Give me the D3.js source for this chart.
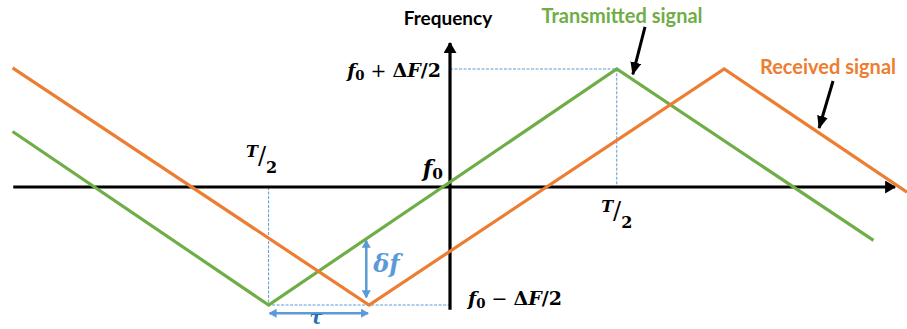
<!DOCTYPE html>
<html>
<head>
<meta charset="utf-8">
<script src="https://cdn.jsdelivr.net/npm/d3@7"></script>
<style>
  html, body { margin: 0; padding: 0; background: #fff; }
  svg { display: block; }
  .label { font-family: Lato, "Open Sans", sans-serif; font-weight: bold; }
  .math { font-family: "DejaVu Serif", serif; font-weight: bold; font-style: italic; }
  .up { font-style: normal; }
</style>
</head>
<body>
<svg id="chart" width="907" height="329"></svg>
<script>
// time in units of the sweep period T (0 at the frequency axis),
// frequency in units of ΔF/2 around f0
const transmitted = [[-0.627, 0.47], [-0.26, -1], [0.239, 1], [0.607, -0.453]];
const received = [[-0.627, 1.01], [-0.116, -1], [0.393, 1], [0.655, -0.044]];

const timeAxis = [-0.626, 0.638];
const freqAxis = [-1.04, 1.22];

// pointer arrows: [tail, tip]
const txPointer = [[0.2795, 1.356], [0.262, 0.955]];
const rxPointer = [[0.549, 0.898], [0.529, 0.5]];

const colors = { tx: "#70ad47", rx: "#ed7d31", guide: "#5b9bd5", tau: "#2470b4" };

const width = 907, height = 329;
const x = d3.scaleLinear().domain([-0.645, 0.655]).range([0, width]);
const y = d3.scaleLinear().domain([-1, 1]).range([305, 69]);
const line = d3.line().x((d) => x(d[0])).y((d) => y(d[1]));

const svg = d3.select("#chart");
const defs = svg.append("defs");

function marker(id, len, half, color) {
  defs.append("marker")
    .attr("id", id)
    .attr("markerUnits", "userSpaceOnUse")
    .attr("viewBox", `0 ${-half} ${len} ${half * 2}`)
    .attr("markerWidth", len)
    .attr("markerHeight", half * 2)
    .attr("refX", len - 1)
    .attr("refY", 0)
    .attr("orient", "auto-start-reverse")
    .append("path")
    .attr("d", `M0,${-half}L${len},0L0,${half}Z`)
    .attr("fill", color);
}
marker("axis-head", 11, 6.5, "#000");
marker("pointer-head", 13, 5.5, "#000");
marker("blue-head", 8, 4.5, colors.guide);

const gMin = transmitted[1], gPeak = transmitted[2], rMin = received[1];

// dashed guides
svg.append("path")
  .attr("d", line([[0, gPeak[1]], gPeak, [gPeak[0], 0]]))
  .attr("fill", "none").attr("stroke", colors.guide)
  .attr("stroke-width", 1).attr("stroke-dasharray", "3,1.5");
svg.append("path")
  .attr("d", line([[gMin[0], 0], gMin, [0, gMin[1]]]))
  .attr("fill", "none").attr("stroke", colors.guide)
  .attr("stroke-width", 1).attr("stroke-dasharray", "3,1.5");

// axes
svg.append("line")
  .attr("x1", x(timeAxis[0])).attr("x2", x(timeAxis[1]))
  .attr("y1", y(0)).attr("y2", y(0))
  .attr("stroke", "#000").attr("stroke-width", 3.2)
  .attr("marker-end", "url(#axis-head)");
svg.append("line")
  .attr("x1", x(0)).attr("x2", x(0))
  .attr("y1", y(freqAxis[0])).attr("y2", y(freqAxis[1]))
  .attr("stroke", "#000").attr("stroke-width", 3.2)
  .attr("marker-end", "url(#axis-head)");

// signals
svg.append("path")
  .attr("d", line(transmitted))
  .attr("fill", "none").attr("stroke", colors.tx).attr("stroke-width", 3.2);
svg.append("path")
  .attr("d", line(received))
  .attr("fill", "none").attr("stroke", colors.rx).attr("stroke-width", 3.2);

// tau and delta-f
const tauF = -1.07;
svg.append("line")
  .attr("x1", x(gMin[0]) + 1).attr("x2", x(rMin[0]) - 1)
  .attr("y1", y(tauF)).attr("y2", y(tauF))
  .attr("stroke", colors.guide).attr("stroke-width", 2.5)
  .attr("marker-start", "url(#blue-head)").attr("marker-end", "url(#blue-head)");
const dfT = -0.12;
svg.append("line")
  .attr("x1", x(dfT)).attr("x2", x(dfT))
  .attr("y1", y(-0.455)).attr("y2", y(-0.935))
  .attr("stroke", colors.guide).attr("stroke-width", 2.5)
  .attr("marker-start", "url(#blue-head)").attr("marker-end", "url(#blue-head)");

// pointers
[txPointer, rxPointer].forEach((p) => {
  svg.append("line")
    .attr("x1", x(p[0][0])).attr("y1", y(p[0][1]))
    .attr("x2", x(p[1][0])).attr("y2", y(p[1][1]))
    .attr("stroke", "#000").attr("stroke-width", 3)
    .attr("marker-end", "url(#pointer-head)");
});

// text labels
svg.append("text").attr("class", "label")
  .attr("x", x(0) - 2).attr("y", 25)
  .attr("text-anchor", "middle").attr("font-size", 19)
  .text("Frequency");
svg.append("text").attr("class", "label")
  .attr("x", 622).attr("y", 23)
  .attr("text-anchor", "middle").attr("font-size", 20)
  .attr("fill", colors.tx)
  .text("Transmitted signal");
svg.append("text").attr("class", "label")
  .attr("x", 828).attr("y", 74)
  .attr("text-anchor", "middle").attr("font-size", 20)
  .attr("fill", colors.rx)
  .text("Received signal");

function fLabel(sel, sign) {
  sel.append("tspan").text("f");
  sel.append("tspan").attr("class", "up").attr("font-size", "0.7em").attr("dy", 3).text("0");
  sel.append("tspan").attr("class", "up").attr("font-weight", "normal").attr("dy", -3).text(` ${sign} `);
  sel.append("tspan").attr("class", "up").text("Δ");
  sel.append("tspan").text("F");
  sel.append("tspan").attr("class", "up").text("/2");
}
svg.append("text").attr("class", "math")
  .attr("x", x(0) - 9).attr("y", y(1) + 8)
  .attr("text-anchor", "end").attr("font-size", 19)
  .call(fLabel, "+");
svg.append("text").attr("class", "math")
  .attr("x", x(0) + 18).attr("y", y(-1))
  .attr("text-anchor", "start").attr("font-size", 19)
  .call(fLabel, "−");

const f0 = svg.append("text").attr("class", "math")
  .attr("x", x(0) - 7).attr("y", y(0) - 11)
  .attr("text-anchor", "end").attr("font-size", 22);
f0.append("tspan").text("f");
f0.append("tspan").attr("class", "up").attr("font-size", "0.7em").attr("dy", 3).text("0");

function halfT(sel) {
  sel.append("tspan").text("T");
  sel.append("tspan").attr("class", "up").attr("font-weight", "normal")
    .attr("font-size", 24).attr("dy", 7).text("/");
  sel.append("tspan").attr("class", "up").attr("dy", 9).text("2");
}
svg.append("text").attr("class", "math")
  .attr("x", x(gMin[0]) - 7).attr("y", 157)
  .attr("text-anchor", "middle").attr("font-size", 16)
  .call(halfT);
svg.append("text").attr("class", "math")
  .attr("x", x(gPeak[0])).attr("y", 212)
  .attr("text-anchor", "middle").attr("font-size", 16)
  .call(halfT);

svg.append("text").attr("class", "math")
  .attr("x", x(dfT) + 7).attr("y", 272)
  .attr("font-size", 24).attr("fill", colors.guide)
  .text("δf");
svg.append("text").attr("class", "math")
  .attr("x", (x(gMin[0]) + x(rMin[0])) / 2 - 3).attr("y", 324)
  .attr("text-anchor", "middle").attr("font-size", 19).attr("fill", colors.tau)
  .text("τ");
</script>
</body>
</html>
